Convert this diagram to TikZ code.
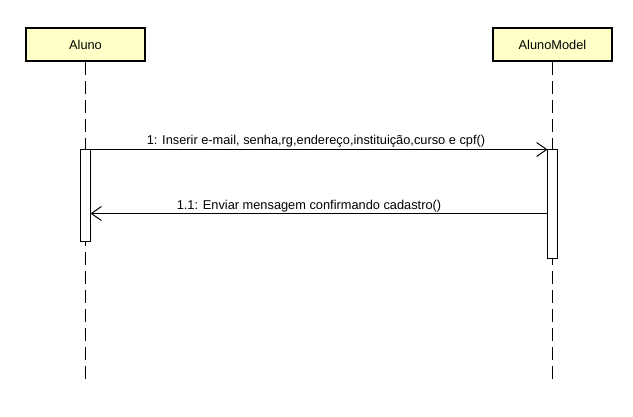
\documentclass[tikz,border=0pt]{standalone}
\usepackage{fontspec}
\setmainfont{Liberation Sans}
\usetikzlibrary{arrows.meta}
\definecolor{objfill}{RGB}{255,255,200}
\tikzset{
  objbox/.style={draw=black, line width=2pt, fill=objfill, minimum width=119pt, minimum height=33pt, inner sep=0pt, font=\fontsize{12.8}{15}\selectfont},
  lifeline/.style={draw=black, line width=1pt, dash pattern=on 13pt off 6pt},
  actbox/.style={draw=black, line width=1pt, fill=white},
  msg/.style={draw=black, line width=1pt, -{Straight Barb[length=10pt, width=14pt, line width=1pt]}},
  msglabel/.style={font=\fontsize{12.8}{15}\selectfont, inner sep=0pt}
}
\begin{document}
\begin{tikzpicture}[x=1pt,y=-1pt]
\useasboundingbox (0,0) rectangle (633,416);
% objects
\node[objbox] (aluno) at (85.5,44.5) {Aluno};
\node[objbox] (model) at (552.5,44.5) {AlunoModel};
% lifelines
\coordinate (aend) at (85.5,385);
\coordinate (mend) at (552.5,385);
\draw[lifeline] (aluno.south) -- (aend);
\draw[lifeline] (model.south) -- (mend);
% activations
\draw[actbox] (80.5,149.5) rectangle (90.5,241.5);
\draw[actbox] (547.5,149.5) rectangle (557.5,258.5);
\coordinate (m1s) at (90.5,149.5);
\coordinate (m1e) at (547.5,149.5);
\coordinate (m2s) at (547.5,213.5);
\coordinate (m2e) at (90.5,213.5);
\draw[msg] (m1s) -- (m1e);
\draw[msg] (m2s) -- (m2e);
\node[msglabel] (l1) at (316,141) {1: Inserir e-mail, senha,rg,endereço,instituição,curso e cpf()};
\node[msglabel] (l2) at (309,206.5) {1.1: Enviar mensagem confirmando cadastro()};
\end{tikzpicture}
\end{document}
